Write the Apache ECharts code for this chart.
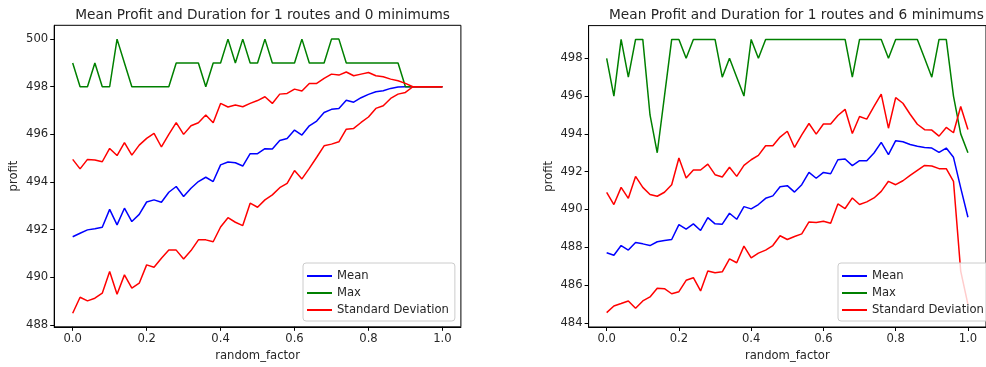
<!DOCTYPE html>
<html>
<head>
<meta charset="utf-8">
<script src="https://cdn.jsdelivr.net/npm/echarts@6/dist/echarts.min.js"></script>
<style>
  html, body { margin: 0; padding: 0; background: #fff; }
  #chart { width: 986px; height: 367px; }
</style>
</head>
<body>
<div id="chart"></div>
<script>
// x values shared by both panels
const randomFactor = [0, 0.02, 0.04, 0.06, 0.08, 0.1, 0.12, 0.14, 0.16, 0.18,
  0.2, 0.22, 0.24, 0.26, 0.28, 0.3, 0.32, 0.34, 0.36, 0.38,
  0.4, 0.42, 0.44, 0.46, 0.48, 0.5, 0.52, 0.54, 0.56, 0.58,
  0.6, 0.62, 0.64, 0.66, 0.68, 0.7, 0.72, 0.74, 0.76, 0.78,
  0.8, 0.82, 0.84, 0.86, 0.88, 0.9, 0.92, 0.94, 0.96, 0.98, 1.0];

// Panel 1: 1 route, 0 minimums
const meanLeft = [491.70, 491.85, 491.99, 492.04, 492.10, 492.85, 492.20, 492.90, 492.34, 492.64,
  493.16, 493.25, 493.15, 493.57, 493.81, 493.39, 493.74, 494.02, 494.20, 494.02,
  494.72, 494.84, 494.81, 494.67, 495.19, 495.19, 495.40, 495.39, 495.74, 495.83,
  496.18, 495.97, 496.36, 496.56, 496.92, 497.05, 497.09, 497.43, 497.35, 497.54,
  497.68, 497.79, 497.83, 497.93, 497.99, 498, 498, 498, 498, 498, 498];
const maxLeft = [499, 498, 498, 499, 498, 498, 500, 499, 498, 498,
  498, 498, 498, 498, 499, 499, 499, 499, 498, 499,
  499, 500, 499, 500, 499, 499, 500, 499, 499, 499,
  499, 500, 499, 499, 499, 500, 500, 499, 499, 499,
  499, 499, 499, 499, 499, 498, 498, 498, 498, 498, 498];
const upperLeft = [494.95, 494.55, 494.95, 494.92, 494.85, 495.41, 495.11, 495.65, 495.13, 495.55,
  495.83, 496.04, 495.47, 496.00, 496.49, 496.00, 496.36, 496.49, 496.81, 496.49,
  497.30, 497.15, 497.23, 497.16, 497.30, 497.42, 497.58, 497.30, 497.69, 497.72,
  497.90, 497.82, 498.14, 498.14, 498.35, 498.53, 498.49, 498.62, 498.46, 498.53,
  498.60, 498.46, 498.42, 498.32, 498.25, 498.14, 498.0, 498, 498, 498, 498];
const lowerLeft = [488.49, 489.16, 489.01, 489.12, 489.33, 490.24, 489.29, 490.10, 489.54, 489.75,
  490.52, 490.42, 490.80, 491.14, 491.14, 490.77, 491.12, 491.57, 491.57, 491.49,
  492.11, 492.50, 492.31, 492.17, 493.11, 492.94, 493.25, 493.46, 493.76, 493.94,
  494.48, 494.13, 494.57, 495.04, 495.52, 495.59, 495.69, 496.22, 496.25, 496.50,
  496.73, 497.09, 497.20, 497.51, 497.69, 497.76, 498.0, 498, 498, 498, 498];

// Panel 2: 1 route, 6 minimums
const meanRight = [487.71, 487.58, 488.09, 487.85, 488.25, 488.18, 488.09, 488.29, 488.36, 488.41,
  489.20, 488.96, 489.24, 488.89, 489.57, 489.24, 489.22, 489.80, 489.48, 490.15,
  490.03, 490.26, 490.59, 490.72, 491.20, 491.26, 490.92, 491.31, 491.96, 491.65,
  491.96, 491.89, 492.63, 492.67, 492.32, 492.58, 492.58, 492.99, 493.55, 492.90,
  493.64, 493.58, 493.44, 493.34, 493.28, 493.25, 493.02, 493.25, 492.76, 491.14, 489.59];
const maxRight = [498, 496, 499, 497, 499, 499, 495, 493, 496, 499,
  499, 498, 499, 499, 499, 499, 497, 498, 497, 496,
  499, 498, 499, 499, 499, 499, 499, 499, 499, 499,
  499, 499, 499, 499, 497, 499, 499, 499, 499, 498,
  499, 499, 499, 499, 498, 497, 499, 499, 496, 494, 493];
const upperRight = [490.91, 490.26, 491.17, 490.59, 491.75, 491.17, 490.79, 490.70, 490.91, 491.31,
  492.72, 491.67, 492.09, 492.09, 492.40, 491.84, 491.72, 492.23, 491.75, 492.33,
  492.63, 492.86, 493.37, 493.37, 493.83, 494.14, 493.28, 493.95, 494.55, 493.99,
  494.52, 494.52, 494.97, 495.30, 494.02, 494.92, 494.78, 495.45, 496.10, 494.30,
  495.92, 495.62, 495.04, 494.51, 494.22, 494.20, 493.88, 494.34, 494.06, 495.45, 494.23];
const lowerRight = [484.54, 484.89, 485.02, 485.16, 484.77, 485.16, 485.37, 485.83, 485.81, 485.54,
  485.65, 486.25, 486.39, 485.69, 486.74, 486.65, 486.70, 487.39, 487.18, 488.06,
  487.44, 487.69, 487.85, 488.09, 488.61, 488.41, 488.57, 488.71, 489.34, 489.31,
  489.38, 489.27, 490.29, 490.05, 490.61, 490.26, 490.40, 490.61, 490.96, 491.49,
  491.31, 491.52, 491.80, 492.07, 492.33, 492.30, 492.16, 492.16, 491.49, 486.74, 484.98];

// tick labels
const xTicks = [0, 0.2, 0.4, 0.6, 0.8, 1.0];
const yTicksLeft = [488, 490, 492, 494, 496, 498, 500];
const yTicksRight = [484, 486, 488, 490, 492, 494, 496, 498];

const titles = [
  'Mean Profit and Duration for 1 routes and 0 minimums',
  'Mean Profit and Duration for 1 routes and 6 minimums'
];
const seriesNames = ['Mean', 'Max', 'Standard Deviation'];

const FONT = '"DejaVu Sans", sans-serif';
const INK = '#262626';
const FS = 11.6;
const COLORS = { Mean: '#0000ff', Max: '#008000', 'Standard Deviation': '#ff0000' };

const grids = [
  { left: 54.2, top: 25.3, width: 406.7, height: 301.5 },
  { left: 588.6, top: 25.6, width: 405.6, height: 302 }
];
const yRanges = [[487.92, 500.58], [483.78, 499.73]];
const yTicks = [yTicksLeft, yTicksRight];

const pairs = ys => ys.map((v, i) => [randomFactor[i], v]);

function xAxisFor(idx) {
  return {
    type: 'value', gridIndex: idx, min: -0.05, max: 1.05,
    name: 'random_factor', nameLocation: 'middle', nameGap: 23,
    nameTextStyle: { fontFamily: FONT, fontSize: FS, color: INK },
    splitLine: { show: false },
    axisLine: { show: true, onZero: false, lineStyle: { color: '#000', width: 1 } },
    axisTick: { show: true, length: 4, customValues: xTicks, lineStyle: { color: '#000' } },
    axisLabel: {
      customValues: xTicks, margin: 6, fontFamily: FONT, fontSize: FS, color: INK,
      formatter: v => v.toFixed(1)
    }
  };
}
function yAxisFor(idx) {
  return {
    type: 'value', gridIndex: idx, min: yRanges[idx][0], max: yRanges[idx][1],
    name: 'profit', nameLocation: 'middle', nameGap: 34, nameRotate: 90,
    nameTextStyle: { fontFamily: FONT, fontSize: FS, color: INK },
    splitLine: { show: false },
    axisLine: { show: true, onZero: false, lineStyle: { color: '#000', width: 1 } },
    axisTick: { show: true, length: 4, customValues: yTicks[idx], lineStyle: { color: '#000' } },
    axisLabel: {
      customValues: yTicks[idx], margin: 6, fontFamily: FONT, fontSize: FS, color: INK,
      formatter: v => String(Math.round(v))
    }
  };
}
function lineSeries(name, idx, ys) {
  return {
    type: 'line', name, xAxisIndex: idx, yAxisIndex: idx,
    data: pairs(ys), symbol: 'none', smooth: false,
    lineStyle: { color: COLORS[name], width: 1.5 },
    itemStyle: { color: COLORS[name] }
  };
}
function legendFor(left) {
  return {
    left, top: 263, orient: 'vertical',
    data: seriesNames,
    icon: 'rect', itemWidth: 25, itemHeight: 2, itemGap: 3, itemTextGap: 9,
    padding: [6, 6, 4, 4],
    backgroundColor: 'rgba(255,255,255,0.8)',
    borderColor: '#cccccc', borderWidth: 1, borderRadius: 3,
    selectedMode: false,
    textStyle: { fontFamily: FONT, fontSize: FS, color: INK, lineHeight: 14 }
  };
}

const chart = echarts.init(document.getElementById('chart'), null, { renderer: 'canvas' });
chart.setOption({
  animation: false,
  backgroundColor: '#ffffff',
  title: titles.map((t, i) => ({
    text: t,
    left: grids[i].left + grids[i].width / 2, top: 3, textAlign: 'center',
    textStyle: { fontFamily: FONT, fontSize: 13.7, fontWeight: 'normal', color: INK }
  })),
  grid: grids.map(g => Object.assign({ show: true, borderColor: '#000', borderWidth: 1, containLabel: false }, g)),
  xAxis: [xAxisFor(0), xAxisFor(1)],
  yAxis: [yAxisFor(0), yAxisFor(1)],
  legend: [legendFor(303), legendFor(838)],
  series: [
    lineSeries('Mean', 0, meanLeft),
    lineSeries('Max', 0, maxLeft),
    lineSeries('Standard Deviation', 0, upperLeft),
    lineSeries('Standard Deviation', 0, lowerLeft),
    lineSeries('Mean', 1, meanRight),
    lineSeries('Max', 1, maxRight),
    lineSeries('Standard Deviation', 1, upperRight),
    lineSeries('Standard Deviation', 1, lowerRight)
  ]
});
</script>
</body>
</html>
